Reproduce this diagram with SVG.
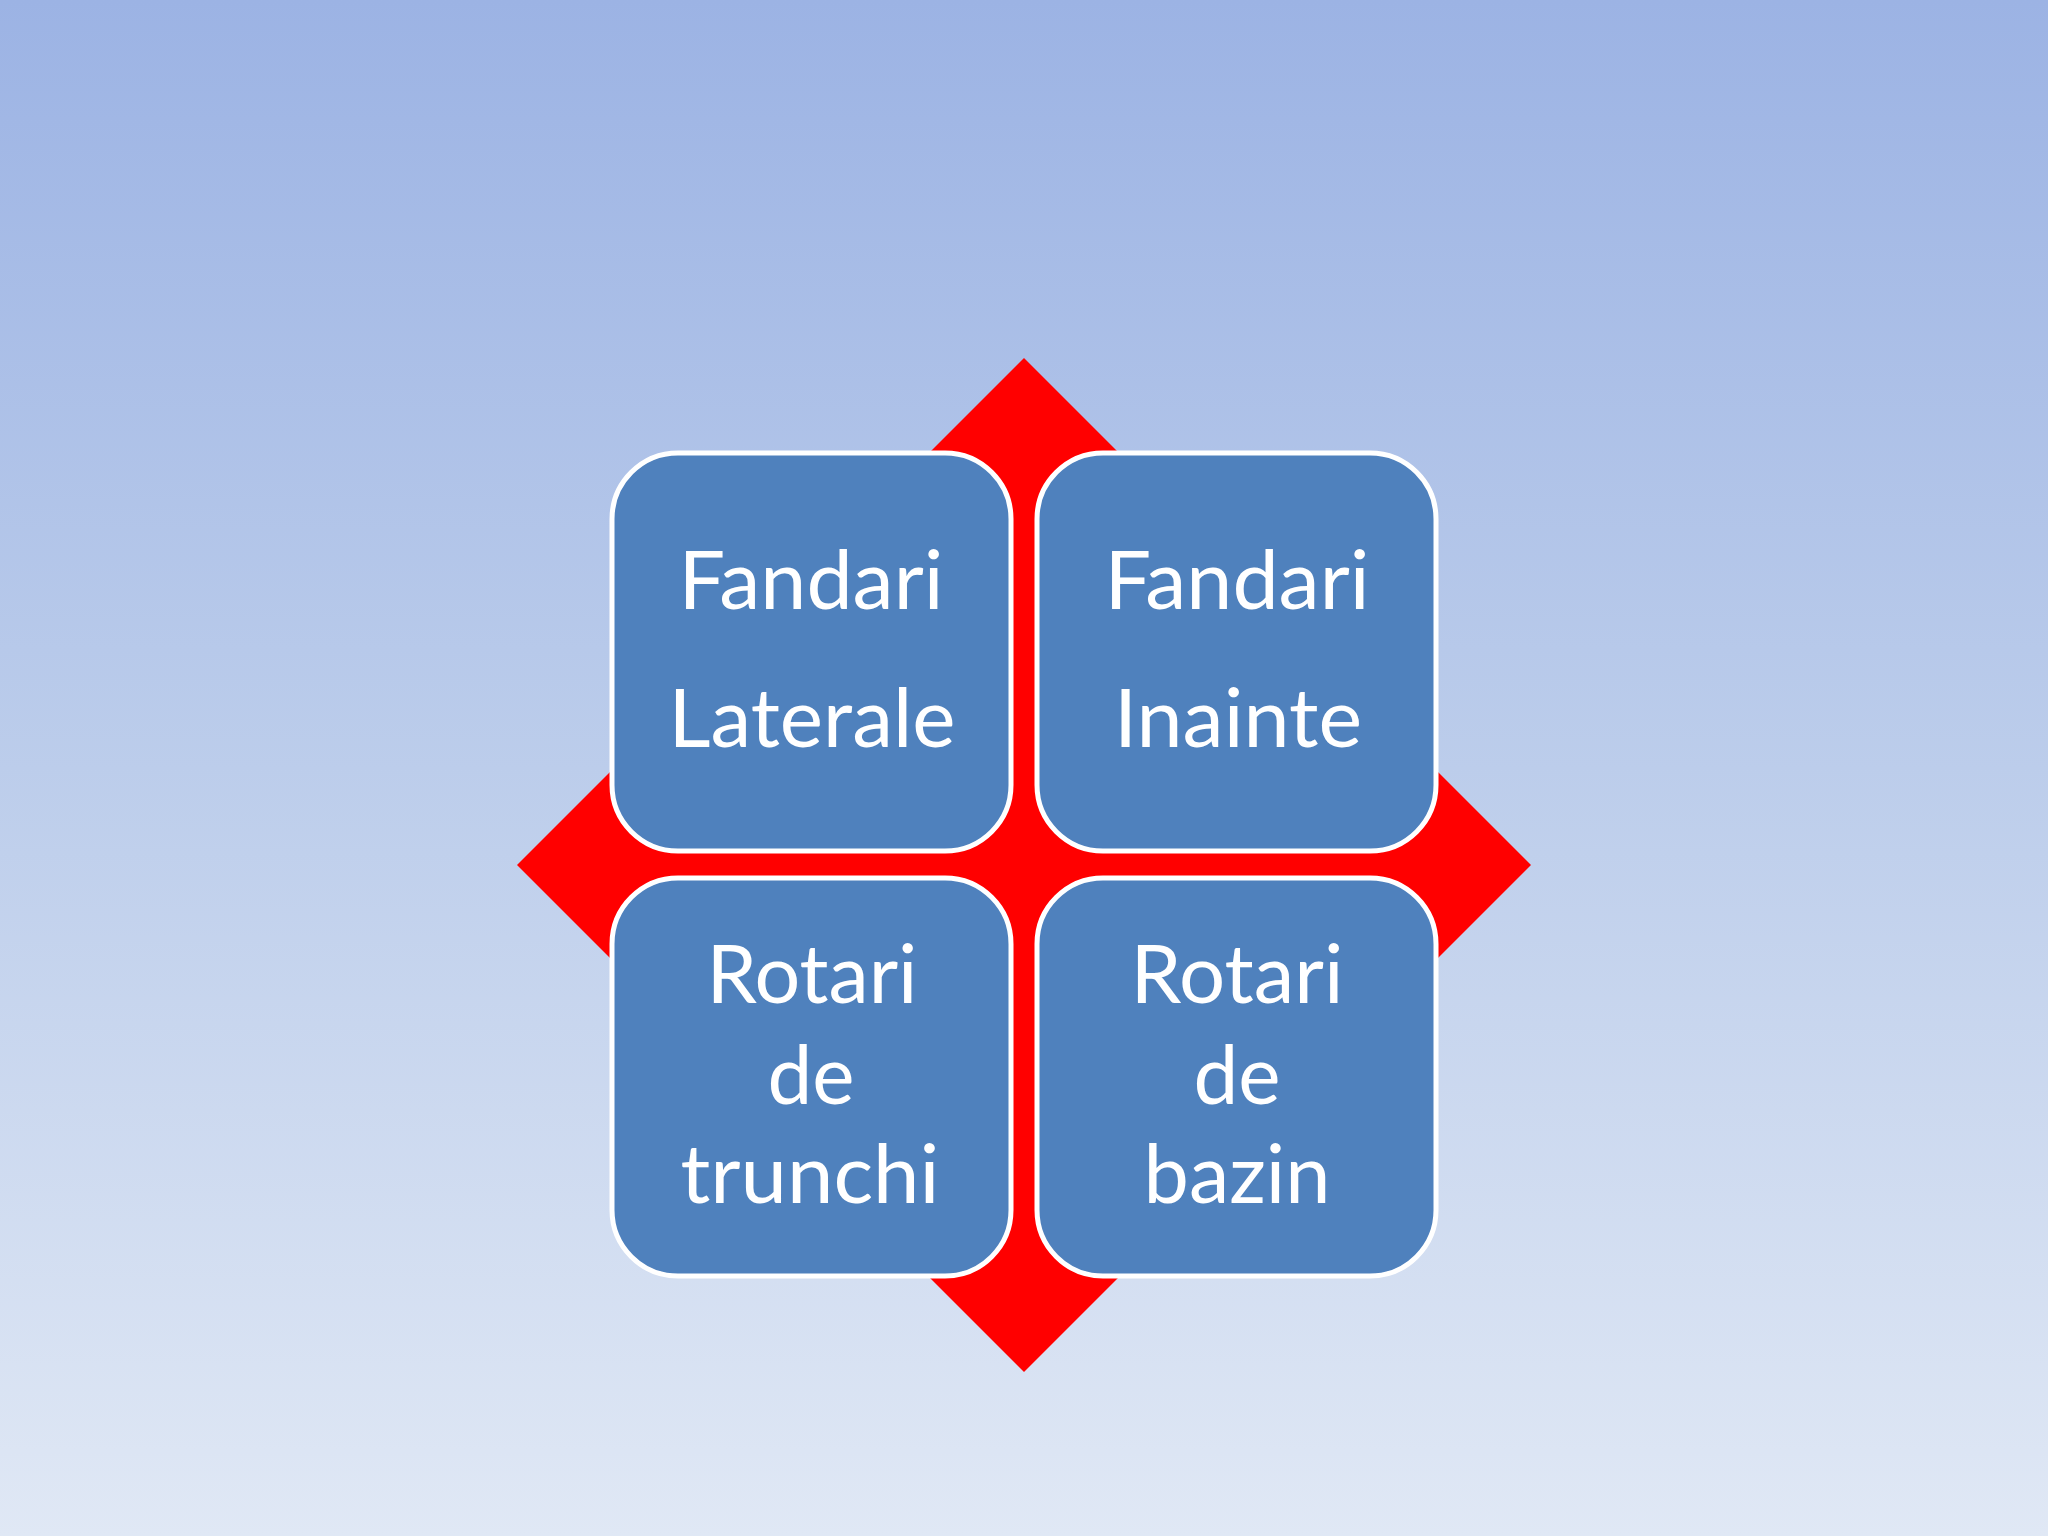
<svg xmlns="http://www.w3.org/2000/svg" width="2048" height="1536" viewBox="0 0 2048 1536">
<defs>
<linearGradient id="bg" x1="0" y1="0" x2="0" y2="1">
<stop offset="0" stop-color="#9cb3e4"/>
<stop offset="0.5" stop-color="#bccdeb"/>
<stop offset="1" stop-color="#e0e8f5"/>
</linearGradient>
<style>
.box{fill:#4f81bd;stroke:#ffffff;stroke-width:5}
.t{fill:#ffffff;font-family:Lato,"Open Sans","Liberation Sans",sans-serif;font-size:82px;text-anchor:middle}
</style>
</defs>
<rect x="0" y="0" width="2048" height="1536" fill="url(#bg)"/>
<polygon id="diamond" points="1024,358 1531,865 1024,1372 517,865" fill="#ff0000"/>
<g id="connectors"></g>
<g id="n1">
<rect class="box" x="612" y="453" width="399" height="398" rx="66" ry="66"/>
<text class="t" x="811" y="609" textLength="265" lengthAdjust="spacingAndGlyphs">Fandari</text>
<text class="t" x="812" y="747" textLength="287" lengthAdjust="spacingAndGlyphs">Laterale</text>
</g>
<g id="n2">
<rect class="box" x="1037" y="453" width="399" height="398" rx="66" ry="66"/>
<text class="t" x="1237" y="609" textLength="265" lengthAdjust="spacingAndGlyphs">Fandari</text>
<text class="t" x="1238" y="747" textLength="248" lengthAdjust="spacingAndGlyphs">Inainte</text>
</g>
<g id="n3">
<rect class="box" x="612" y="878" width="399" height="398" rx="66" ry="66"/>
<text class="t" x="812" y="1003" textLength="211" lengthAdjust="spacingAndGlyphs">Rotari</text>
<text class="t" x="811" y="1104" textLength="87" lengthAdjust="spacingAndGlyphs">de</text>
<text class="t" x="810" y="1203" textLength="259" lengthAdjust="spacingAndGlyphs">trunchi</text>
</g>
<g id="n4">
<rect class="box" x="1037" y="878" width="399" height="398" rx="66" ry="66"/>
<text class="t" x="1237" y="1003" textLength="213" lengthAdjust="spacingAndGlyphs">Rotari</text>
<text class="t" x="1237" y="1104" textLength="87" lengthAdjust="spacingAndGlyphs">de</text>
<text class="t" x="1237" y="1203" textLength="187" lengthAdjust="spacingAndGlyphs">bazin</text>
</g>
</svg>
